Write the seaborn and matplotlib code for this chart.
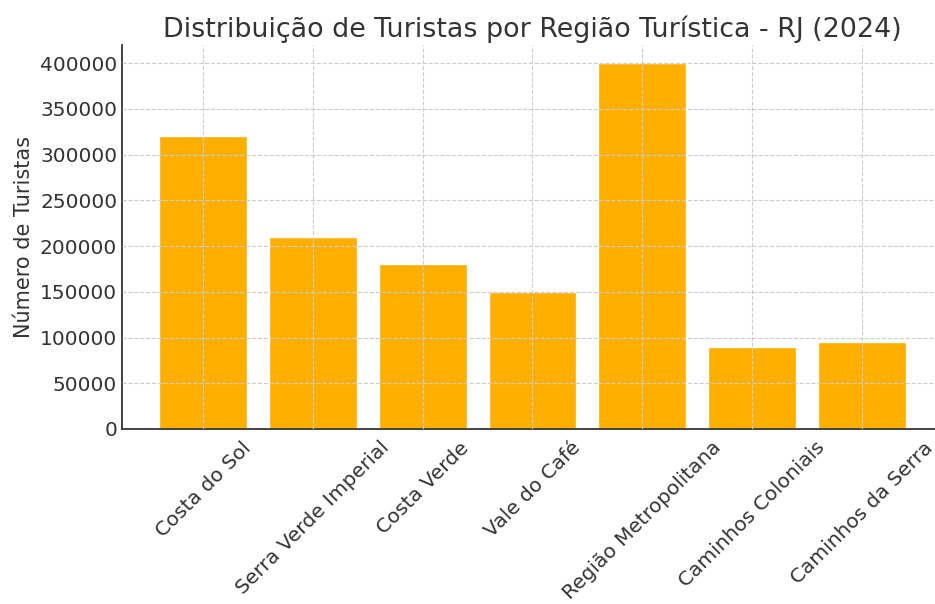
import matplotlib
matplotlib.use("Agg")
import matplotlib.pyplot as plt
import seaborn as sns
import pandas as pd

regioes = ["Costa do Sol", "Serra Verde Imperial", "Costa Verde", "Vale do Café",
           "Região Metropolitana", "Caminhos Coloniais", "Caminhos da Serra"]
turistas = [320000, 210000, 180000, 150000, 400000, 90000, 95000]

df = pd.DataFrame({"Região": regioes, "Turistas": turistas})

sns.set_style("white")
plt.rcParams["font.family"] = ["DejaVu Sans"]
plt.rcParams["text.color"] = "#333333"

fig = plt.figure(figsize=(9.35, 6.04), dpi=100)
ax = fig.add_axes([122/935, (604-429)/604, (943-122)/935, (429-45)/604])

sns.barplot(data=df, x="Região", y="Turistas", color="#FFAF00", saturation=1, width=0.8, ax=ax)

ax.set_xlim(-0.74, 6.74)
ax.set_ylim(0, 420000)
ax.set_title("Distribuição de Turistas por Região Turística - RJ (2024)", fontsize=19.4, color="#333333", pad=6)
ax.set_xlabel("")
ax.set_ylabel("Número de Turistas", fontsize=15, color="#333333")
ax.tick_params(axis="both", direction="in", labelsize=14.5, colors="#333333", length=5)
ax.tick_params(axis="x", pad=6.5)
plt.setp(ax.get_xticklabels(), rotation=45, ha="center")

ax.grid(True, linestyle="--", color="#cccccc", linewidth=0.8)
ax.set_axisbelow(False)
for s in ["top", "right"]:
    ax.spines[s].set_visible(False)
for s in ["left", "bottom"]:
    ax.spines[s].set_color("#333333")
    ax.spines[s].set_linewidth(1.3)

fig.savefig("out.png", dpi=100)
